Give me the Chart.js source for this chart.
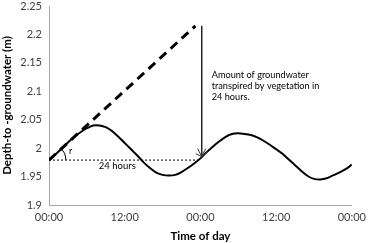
<!DOCTYPE html>
<html>
<head>
<meta charset="utf-8">
<script src="https://cdn.jsdelivr.net/npm/chart.js@4/dist/chart.umd.min.js"></script>
<style>
  html, body { margin: 0; padding: 0; background: #fff; }
  #wrap { width: 368px; height: 243px; }
</style>
</head>
<body>
<div id="wrap"><canvas id="chart" width="368" height="243"></canvas></div>
<script>
// hours since start (two days), depth to groundwater (m)
const hours = [0,1,2,3,4,5,6,7,8,9,10,11,12,13,14,15,16,17,18,19,20,21,22,23,24,
  25,26,27,28,29,30,31,32,33,34,35,36,37,38,39,40,41,42,43,44,45,46,47,48];
const depth = [1.980,1.989,1.999,2.010,2.020,2.028,2.035,2.040,2.040,2.037,2.030,2.020,2.009,
  1.998,1.987,1.975,1.965,1.957,1.953,1.952,1.953,1.958,1.965,1.973,1.982,
  1.993,2.003,2.012,2.020,2.025,2.026,2.025,2.023,2.019,2.013,2.006,1.998,1.990,1.980,
  1.970,1.960,1.951,1.946,1.945,1.947,1.952,1.957,1.963,1.971];

// recharge-rate line (r) and the 24 hour reference
const rateHours = [0, 23.2];
const rateDepth = [1.979, 2.215];
const dayHours = [0, 24];
const dayDepth = [1.979, 1.979];
const arrowHours = [24.2, 24.2];
const arrowDepth = [2.215, 1.985];

const yTicks = [1.9, 1.95, 2, 2.05, 2.1, 2.15, 2.2, 2.25];
const xTicks = [0, 12, 24, 36, 48];
const noteLines = ['Amount of groundwater', 'transpired by vegetation in', '24 hours.'];

const FONT = 'Lato, "Open Sans", sans-serif';

function pts(xs, ys) { return xs.map((x, i) => ({ x: x, y: ys[i] })); }

const extras = {
  id: 'extras',
  afterDatasetsDraw(chart) {
    const ctx = chart.ctx;
    const xs = chart.scales.x, ys = chart.scales.y;
    ctx.save();

    // arrow head
    const tx = xs.getPixelForValue(arrowHours[1]);
    const ty = ys.getPixelForValue(arrowDepth[1]);
    ctx.strokeStyle = '#333';
    ctx.lineWidth = 1;
    ctx.beginPath();
    ctx.moveTo(tx - 4, ty - 8); ctx.lineTo(tx, ty); ctx.lineTo(tx + 4, ty - 8);
    ctx.moveTo(tx - 6, ty - 3); ctx.lineTo(tx, ty); ctx.lineTo(tx + 6, ty - 5);
    ctx.stroke();

    // angle arc for r
    const ox = xs.getPixelForValue(rateHours[0]);
    const oy = ys.getPixelForValue(rateDepth[0]);
    const ex = xs.getPixelForValue(rateHours[1]);
    const ey = ys.getPixelForValue(rateDepth[1]);
    const ang = Math.atan2(ey - oy, ex - ox);
    ctx.strokeStyle = '#000';
    ctx.beginPath();
    ctx.arc(ox, oy, 17, ang, 0);
    ctx.stroke();

    ctx.fillStyle = '#000';
    ctx.font = '9px ' + FONT;
    ctx.textBaseline = 'middle';
    ctx.textAlign = 'left';
    ctx.fillText('r', ox + 20, oy - 9);

    // 24 hours label
    ctx.font = '9.5px ' + FONT;
    ctx.textAlign = 'center';
    ctx.fillText('24 hours', (ox + tx) / 2 - 8, oy + 6);

    // note
    ctx.font = '9.2px ' + FONT;
    ctx.textAlign = 'left';
    const nx = tx + 10;
    let ny = ys.getPixelForValue(2.129);
    noteLines.forEach(l => { ctx.fillText(l, nx, ny); ny += 11; });

    ctx.restore();
  }
};

new Chart(document.getElementById('chart'), {
  type: 'line',
  data: {
    datasets: [
      { data: pts(hours, depth), borderColor: '#000', borderWidth: 2, pointRadius: 0, tension: 0.3 },
      { data: pts(rateHours, rateDepth), borderColor: '#000', borderWidth: 3, borderDash: [9, 6], pointRadius: 0 },
      { data: pts(dayHours, dayDepth), borderColor: '#000', borderWidth: 1, borderDash: [2, 2], pointRadius: 0 },
      { data: pts(arrowHours, arrowDepth), borderColor: '#222', borderWidth: 1, pointRadius: 0 }
    ]
  },
  options: {
    responsive: false,
    animation: false,
    layout: { padding: { top: 6, right: 9, bottom: 0, left: 0 } },
    plugins: { legend: { display: false }, tooltip: { enabled: false } },
    scales: {
      x: {
        type: 'linear', min: 0, max: 48,
        afterBuildTicks: s => { s.ticks = xTicks.map(v => ({ value: v })); },
        afterFit: s => { s.height = 38; },
        grid: { display: false, drawTicks: true, tickLength: 4, color: '#a6a6a6' },
        border: { color: '#a6a6a6' },
        ticks: {
          color: '#404040', font: { family: FONT, size: 11 }, padding: 2, maxRotation: 0,
          callback: v => (v % 24 === 0 ? '00:00' : '12:00')
        },
        title: { display: true, text: 'Time of day', color: '#000', font: { family: FONT, size: 11.5, weight: 'bold' }, padding: { top: 2, bottom: 0 } }
      },
      y: {
        min: 1.9, max: 2.25,
        afterBuildTicks: s => { s.ticks = yTicks.map(v => ({ value: v })); },
        afterFit: s => { s.width = 49; s.paddingTop = 0; s.paddingBottom = 0; },
        grid: { display: false, drawTicks: true, tickLength: 4, color: '#a6a6a6' },
        border: { color: '#a6a6a6' },
        ticks: {
          color: '#404040', font: { family: FONT, size: 11 }, padding: 3,
          callback: v => String(Number(v.toFixed(2)))
        },
        title: { display: true, text: 'Depth-to -groundwater (m)', color: '#000', font: { family: FONT, size: 11.5, weight: 'bold' }, padding: { top: 0, bottom: 2 } }
      }
    }
  },
  plugins: [extras]
});
</script>
</body>
</html>
